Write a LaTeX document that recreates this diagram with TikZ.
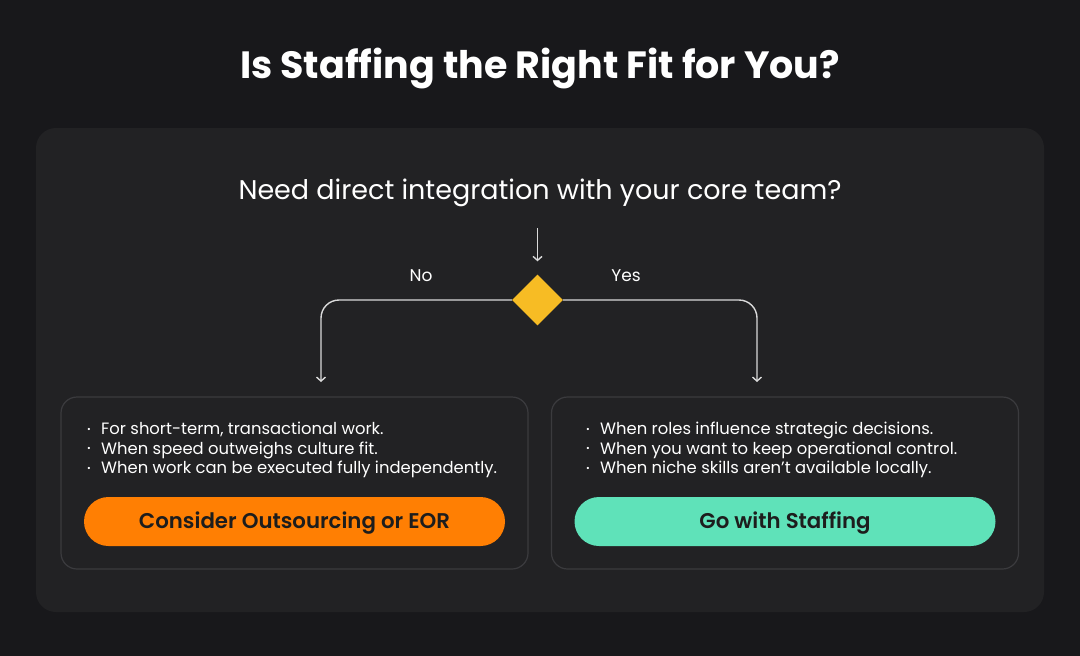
\documentclass[tikz,border=0pt]{standalone}
\usepackage{fontspec}
\setmainfont{Poppins}
\newfontfamily\pillfont{Poppins}[UprightFont=* SemiBold]
\usetikzlibrary{shapes.geometric,arrows.meta}

\definecolor{pagebg}{HTML}{18181B}
\definecolor{panelbg}{HTML}{222224}
\definecolor{boxline}{HTML}{3B3B3E}
\definecolor{decgold}{HTML}{F7BC24}
\definecolor{noorange}{HTML}{FF7F03}
\definecolor{yesgreen}{HTML}{5FE2B9}
\definecolor{btntext}{HTML}{1D1D1D}
\definecolor{linkgray}{HTML}{DADADA}

\newcommand{\bul}{\makebox[14pt][l]{\raisebox{0.25ex}{\fontsize{9}{9}\selectfont •}}}

\tikzset{
  link/.style={draw=linkgray, line width=1.4pt, -{Straight Barb[length=4pt,width=9pt]}},
  casebox/.style={draw=boxline, line width=1.2pt, fill=panelbg, rounded corners=16pt,
    minimum width=467pt, minimum height=172pt},
  pill/.style={rounded corners=24.5pt, minimum width=421pt, minimum height=49pt,
    text height=18pt, text depth=4pt,
    text=btntext, font=\fontsize{21.3}{24}\pillfont},
  bullets/.style={text=white, font=\fontsize{16.4}{19.5}\selectfont, align=left,
    anchor=north west, inner sep=0pt},
}

\begin{document}
\begin{tikzpicture}[x=1pt, y=-1pt]
  % Background and panel
  \fill[pagebg] (0,0) rectangle (1080,656);
  \useasboundingbox (0,0) rectangle (1080,656);
  \fill[panelbg, rounded corners=20pt] (36,128) rectangle (1044,612);

  % Titles
  \node[anchor=base, text=white, font=\fontsize{38}{44}\selectfont\bfseries] (title) at (540,78)
    {Is Staffing the Right Fit for You?};
  \node[anchor=base, text=white, font=\fontsize{27}{32}\selectfont] (question) at (540,199)
    {Need direct integration with your core team?};

  % Decision
  \node[diamond, fill=decgold, minimum size=51pt, inner sep=0pt] (dec) at (537.5,300) {};
  \coordinate (inStart) at (537.5,228);
  \coordinate (noEnd) at (321,382);
  \coordinate (yesEnd) at (757,382);
  \draw[link, shorten >=13pt] (inStart) -- (dec.north);
  \draw[link, rounded corners=18pt] (dec.west) -| (noEnd);
  \draw[link, rounded corners=18pt] (dec.east) -| (yesEnd);
  \node[anchor=base, text=white, font=\fontsize{17}{20}\selectfont] (noLabel) at (421,281) {No};
  \node[anchor=base, text=white, font=\fontsize{17}{20}\selectfont] (yesLabel) at (626,281) {Yes};

  % Outcome boxes
  \node[casebox] (noBox) at (294.5,483) {};
  \node[casebox] (yesBox) at (785,483) {};

  \node[bullets] (noList) at (87,422) {\bul For short-term, transactional work.\\
    \bul When speed outweighs culture fit.\\
    \bul When work can be executed fully independently.};
  \node[bullets] (yesList) at (586,422) {\bul When roles influence strategic decisions.\\
    \bul When you want to keep operational control.\\
    \bul When niche skills aren’t available locally.};

  \node[pill, fill=noorange] (noBtn) at (294.5,521.5) {Consider Outsourcing or EOR};
  \node[pill, fill=yesgreen] (yesBtn) at (785,521.5) {Go with Staffing};
\end{tikzpicture}
\end{document}
